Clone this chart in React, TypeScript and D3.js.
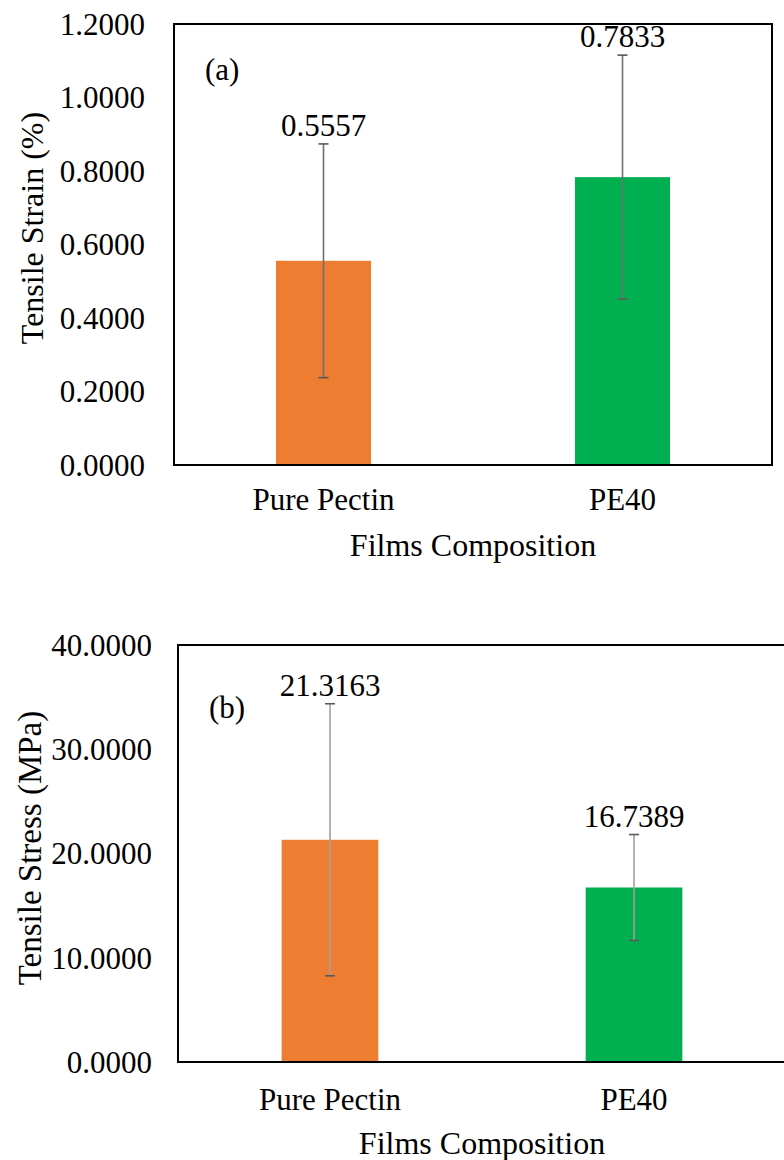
import React from "react";
import * as d3 from "d3";

// Film compositions and measured mechanical properties (mean ± SD)
const categories = ["Pure Pectin", "PE40"];
const strainMeans = [0.5557, 0.7833];
const strainErrors = [0.318, 0.332];
const stressMeans = [21.3163, 16.7389];
const stressErrors = [13.05, 5.08];
const strainTicks = [0, 0.2, 0.4, 0.6, 0.8, 1.0, 1.2];
const stressTicks = [0, 10, 20, 30, 40];
const barColors = ["#ED7D31", "#00B050"];

const FONT = "'Liberation Serif', 'Times New Roman', serif";

type PanelProps = {
  tag: string;
  tagDy: number;
  yTitle: string;
  yTitleSize: number;
  means: number[];
  errors: number[];
  ticks: number[];
  left: number;
  right: number;
  top: number;
  bottom: number;
  errColor: string;
  yTitleX: number;
  yTitleY: number;
  tickGap: number;
  catY: number;
  titleY: number;
};

function Panel(p: PanelProps) {
  const x = d3.scaleBand<string>().domain(categories).range([p.left, p.right]).padding(0);
  const y = d3
    .scaleLinear()
    .domain([p.ticks[0], p.ticks[p.ticks.length - 1]])
    .range([p.bottom, p.top]);
  const barW = x.bandwidth() * 0.318;
  const fmt = d3.format(".4f");
  const center = (c: string) => (x(c) as number) + x.bandwidth() / 2;
  return (
    <g fontFamily={FONT} fill="#000">
      {/* bars */}
      {categories.map((c, i) => (
        <rect
          key={c}
          x={center(c) - barW / 2}
          y={y(p.means[i])}
          width={barW}
          height={p.bottom - y(p.means[i])}
          fill={barColors[i]}
        />
      ))}
      {/* error bars */}
      {categories.map((c, i) => {
        const cx = center(c);
        const hi = y(p.means[i] + p.errors[i]);
        const lo = y(p.means[i] - p.errors[i]);
        return (
          <g key={c} stroke={p.errColor} strokeWidth={1.6}>
            <line x1={cx} x2={cx} y1={hi} y2={lo} />
            <line x1={cx - 5} x2={cx + 5} y1={hi} y2={hi} stroke="#595959" />
            <line x1={cx - 5} x2={cx + 5} y1={lo} y2={lo} stroke="#595959" />
          </g>
        );
      })}
      {/* value labels */}
      {categories.map((c, i) => (
        <text
          key={c}
          x={center(c)}
          y={y(p.means[i] + p.errors[i]) - 8}
          textAnchor="middle"
          fontSize={31}
        >
          {fmt(p.means[i])}
        </text>
      ))}
      {/* plot frame */}
      <rect
        x={p.left}
        y={p.top}
        width={p.right - p.left}
        height={p.bottom - p.top}
        fill="none"
        stroke="#000"
        strokeWidth={2}
      />
      {/* y tick labels */}
      {p.ticks.map((t) => (
        <text
          key={t}
          x={p.left - p.tickGap}
          y={y(t)}
          dy="0.35em"
          textAnchor="end"
          fontSize={31}
        >
          {fmt(t)}
        </text>
      ))}
      {/* category labels */}
      {categories.map((c) => (
        <text key={c} x={center(c)} y={p.catY} textAnchor="middle" fontSize={31}>
          {c}
        </text>
      ))}
      {/* panel tag */}
      <text x={p.left + 31} y={p.top + p.tagDy} fontSize={31}>
        {p.tag}
      </text>
      {/* axis titles */}
      <text x={(p.left + p.right) / 2} y={p.titleY} textAnchor="middle" fontSize={32}>
        Films Composition
      </text>
      <text
        transform={`translate(${p.yTitleX},${p.yTitleY}) rotate(-90)`}
        textAnchor="middle"
        fontSize={p.yTitleSize}
      >
        {p.yTitle}
      </text>
    </g>
  );
}

export default function App() {
  return (
    <div style={{ position: "absolute", left: 0, top: 0 }}>
      <svg width={784} height={1160} style={{ display: "block", background: "#fff" }}>
        <Panel
          tag="(a)"
          tagDy={56}
          yTitle="Tensile Strain (%)"
          yTitleSize={32}
          means={strainMeans}
          errors={strainErrors}
          ticks={strainTicks}
          left={174}
          right={772}
          top={24}
          bottom={465}
          errColor="#707070"
          yTitleX={43}
          yTitleY={228}
          tickGap={29}
          catY={510}
          titleY={556}
        />
        <Panel
          tag="(b)"
          tagDy={73}
          yTitle="Tensile Stress (MPa)"
          yTitleSize={33}
          means={stressMeans}
          errors={stressErrors}
          ticks={stressTicks}
          left={178}
          right={786}
          top={645}
          bottom={1062}
          errColor="#a0a0a0"
          yTitleX={41}
          yTitleY={848}
          tickGap={26}
          catY={1110}
          titleY={1154}
        />
      </svg>
    </div>
  );
}
